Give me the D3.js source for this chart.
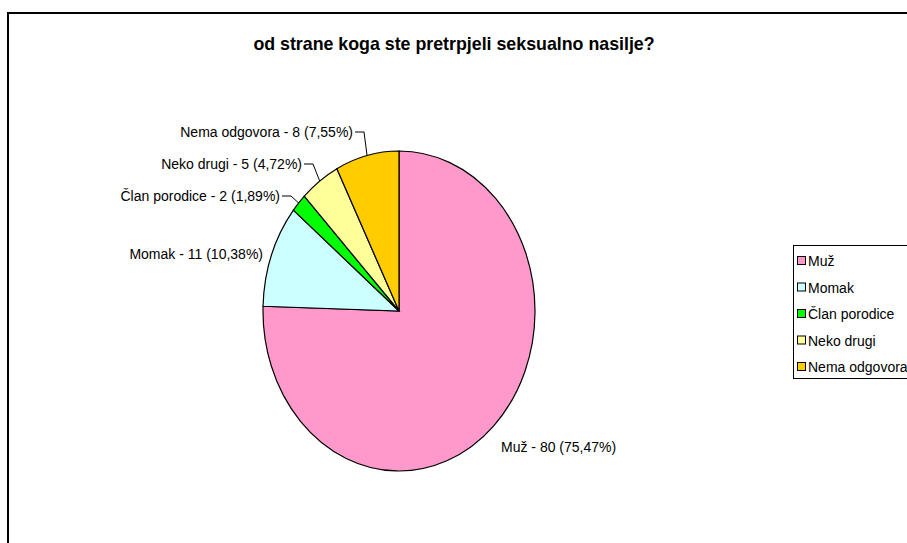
<!DOCTYPE html>
<html>
<head>
<meta charset="utf-8">
<script src="https://cdnjs.cloudflare.com/ajax/libs/d3/7.8.5/d3.min.js"></script>
<style>
  body { margin: 0; background: #fff; }
  svg { display: block; font-family: "Liberation Sans", Arial, sans-serif; }
</style>
</head>
<body>
<div id="chart"></div>
<script>
// data
const categories = ["Muž", "Momak", "Član porodice", "Neko drugi", "Nema odgovora"];
const counts = [80, 11, 2, 5, 8];
const percents = ["75,47%", "10,38%", "1,89%", "4,72%", "7,55%"];
const colors = ["#ff99cc", "#ccffff", "#00ff00", "#ffff99", "#ffcc00"];
const title = "od strane koga ste pretrpjeli seksualno nasilje?";

// label layout: [x, y, anchor, elbow x or null]
const labelPos = [
    [501, 452, "start", null],
    [263, 259, "end", null],
    [280, 201, "end", 291],
    [302, 169, "end", 313],
    [353, 137, "end", 364]
];

const w = 907, h = 543;
const cx = 399, cy = 311;
const rx = 136, ry = 160; // pie is stretched vertically

const svg = d3.select("#chart").append("svg")
    .attr("width", w)
    .attr("height", h);

// outer frame (only top and left visible)
svg.append("path")
    .attr("d", `M8,${h} L8,13 L${w},13`)
    .attr("fill", "none")
    .attr("stroke", "#000")
    .attr("stroke-width", 2);

svg.append("text")
    .attr("x", 454)
    .attr("y", 50)
    .attr("text-anchor", "middle")
    .style("font-size", "17.8px")
    .style("font-weight", "bold")
    .text(title);

const pie = d3.pie().sort(null).value(d => d);
const arc = d3.arc().innerRadius(0).outerRadius(rx);
const slices = pie(counts);

const g = svg.append("g")
    .attr("transform", `translate(${cx},${cy}) scale(1,${ry / rx})`);

g.selectAll("path")
    .data(slices)
    .enter()
    .append("path")
    .attr("d", arc)
    .attr("fill", (d, i) => colors[i])
    .attr("stroke", "#000")
    .attr("stroke-width", 1.2)
    .attr("vector-effect", "non-scaling-stroke");

// labels + leader lines
slices.forEach(function(d, i) {
    const p = labelPos[i];
    const mid = (d.startAngle + d.endAngle) / 2;
    if (p[3] !== null) {
        const ex = cx + rx * Math.sin(mid);
        const ey = cy - ry * Math.cos(mid);
        svg.append("path")
            .attr("d", `M${p[0] + 2},${p[1] - 5} L${p[3]},${p[1] - 5} L${ex},${ey}`)
            .attr("fill", "none")
            .attr("stroke", "#000")
            .attr("stroke-width", 1);
    }
    svg.append("text")
        .attr("x", p[0])
        .attr("y", p[1])
        .attr("text-anchor", p[2])
        .style("font-size", "14px")
        .text(`${categories[i]} - ${counts[i]} (${percents[i]})`);
});

// legend
const legend = svg.append("g").attr("transform", "translate(793,245)");
legend.append("rect")
    .attr("x", 0.5).attr("y", 0.5)
    .attr("width", 130).attr("height", 133)
    .attr("fill", "#fff")
    .attr("stroke", "#000")
    .attr("stroke-width", 1);

const item = legend.selectAll("g.item")
    .data(categories)
    .enter()
    .append("g")
    .attr("class", "item")
    .attr("transform", (d, i) => `translate(0,${16 + i * 26.5})`);

item.append("rect")
    .attr("x", 4.5).attr("y", -4.5)
    .attr("width", 8).attr("height", 8)
    .attr("fill", (d, i) => colors[i])
    .attr("stroke", "#000")
    .attr("stroke-width", 1);

item.append("text")
    .attr("x", 15)
    .attr("y", 5)
    .style("font-size", "14px")
    .text(d => d);
</script>
</body>
</html>
